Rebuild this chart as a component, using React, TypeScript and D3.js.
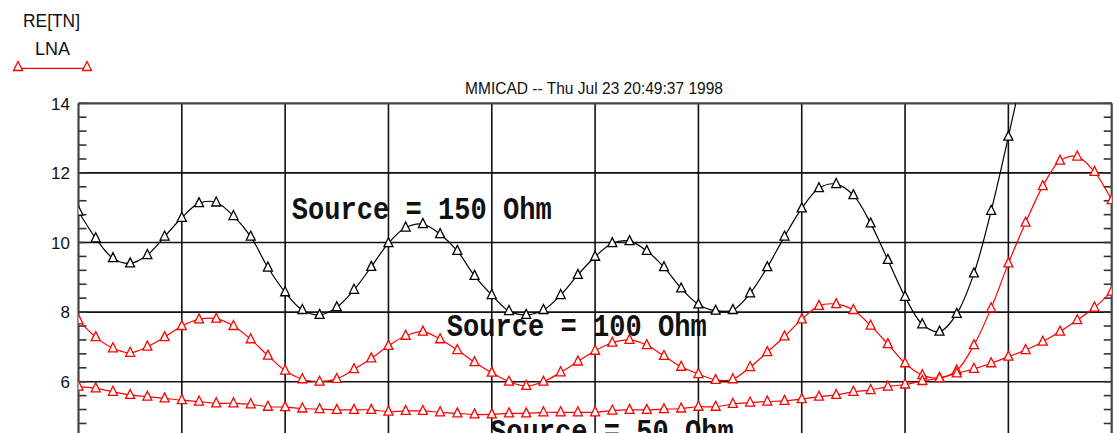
import React from "react";
import * as d3 from "d3";

const W = 1117;
const H = 433;

const yTicks = [14, 12, 10, 8, 6];
const yGrid = [12, 10, 8, 6, 4];
const xGridIdx = [6, 12, 18, 24, 30, 36, 42, 48, 54];

const src150 = [
  10.89, 10.12, 9.55, 9.4, 9.64, 10.17, 10.71, 11.13, 11.15, 10.76, 10.17, 9.28, 8.57, 8.06, 7.92, 8.14,
  8.64, 9.3, 9.98, 10.43, 10.53, 10.24, 9.76, 9.04, 8.49, 8.03, 7.92, 8.06, 8.49, 9.07, 9.59, 9.98, 10.04,
  9.76, 9.29, 8.68, 8.22, 8.04, 8.06, 8.54, 9.29, 10.17, 10.98, 11.56, 11.68, 11.36, 10.55, 9.5, 8.44,
  7.65, 7.44, 7.95, 9.11, 10.91, 13.04, 15.3,
];

const src100 = [
  7.77, 7.28, 6.96, 6.83, 7.01, 7.28, 7.6, 7.79, 7.81, 7.6, 7.22, 6.75, 6.32, 6.07, 6.0, 6.08, 6.36, 6.67,
  7.03, 7.32, 7.44, 7.22, 6.91, 6.56, 6.26, 6.0, 5.88, 6.0, 6.27, 6.58, 6.89, 7.12, 7.2, 7.05, 6.74, 6.43,
  6.22, 6.05, 6.07, 6.42, 6.85, 7.3, 7.79, 8.18, 8.23, 8.06, 7.61, 7.08, 6.53, 6.19, 6.11, 6.32, 7.05, 8.11,
  9.4, 10.57, 11.62, 12.35, 12.47, 12.03, 11.22,
];

const src50 = [
  5.86, 5.81, 5.71, 5.62, 5.57, 5.52, 5.47, 5.43, 5.38, 5.38, 5.35, 5.28, 5.27, 5.23, 5.21, 5.19, 5.19, 5.19,
  5.14, 5.16, 5.16, 5.12, 5.09, 5.06, 5.06, 5.09, 5.09, 5.12, 5.12, 5.12, 5.12, 5.17, 5.19, 5.19, 5.21, 5.23,
  5.28, 5.28, 5.36, 5.4, 5.43, 5.45, 5.5, 5.57, 5.62, 5.71, 5.76, 5.86, 5.92, 6.02, 6.1, 6.24, 6.37, 6.53,
  6.72, 6.91, 7.15, 7.44, 7.77, 8.13, 8.59,
];

const labels = [
  { text: "Source = 150 Ohm", x: 12.38, y: 10.67 },
  { text: "Source = 100 Ohm", x: 21.38, y: 7.31 },
  { text: "Source = 50 Ohm", x: 23.9, y: 4.31 },
];

const tri = "M0,-5.5L4.5,3.5L-4.5,3.5Z";

export default function App() {
  const x = d3.scaleLinear().domain([0, 60]).range([78.5, 1111.7]);
  const y = d3.scaleLinear().domain([6, 14]).range([381.7, 103.3]);
  const left = x(0);
  const right = x(60);
  const top = y(14);
  const bottom = y(2);

  const line = d3
    .line<number>()
    .x((_, i) => x(i))
    .y((d) => y(d))
    .curve(d3.curveCatmullRom.alpha(0.5));

  const minor: number[] = [];
  for (let v = 14; v >= 2.01; v -= 0.4) minor.push(+v.toFixed(2));

  const series = [
    { data: src150, color: "#000000" },
    { data: src100, color: "#ff0000" },
    { data: src50, color: "#ff0000" },
  ];

  return (
    <svg
      width={W}
      height={H}
      style={{ position: "absolute", left: 0, top: 0, background: "#fff" }}
      fontFamily="'Liberation Sans', Arial, sans-serif"
    >
      <defs>
        <clipPath id="plot">
          <rect x={left} y={top} width={right - left} height={bottom - top} />
        </clipPath>
      </defs>
      <rect width={W} height={H} fill="#fff" />

      {/* legend */}
      <text x={51.5} y={26.7} fontSize={18} textAnchor="middle" textLength={57} lengthAdjust="spacingAndGlyphs" fill="#111">
        RE[TN]
      </text>
      <text x={52.5} y={55} fontSize={18} textAnchor="middle" textLength={35} lengthAdjust="spacingAndGlyphs" fill="#111">
        LNA
      </text>
      <line x1={18} x2={87} y1={68.3} y2={68.3} stroke="#ff0000" strokeWidth={1.3} />
      <path d={tri} transform="translate(18,67)" fill="#fff" stroke="#ff0000" strokeWidth={1.3} />
      <path d={tri} transform="translate(87,67)" fill="#fff" stroke="#ff0000" strokeWidth={1.3} />

      {/* title */}
      <text x={594} y={94.3} fontSize={17} textAnchor="middle" textLength={258} lengthAdjust="spacingAndGlyphs" fill="#111">
        MMICAD -- Thu Jul 23 20:49:37 1998
      </text>

      {/* grid */}
      {yGrid.map((t) => (
        <line key={"h" + t} x1={left} x2={right} y1={y(t)} y2={y(t)} stroke="#111" strokeWidth={1.6} />
      ))}
      {xGridIdx.map((i) => (
        <line key={"v" + i} x1={x(i)} x2={x(i)} y1={top} y2={bottom} stroke="#111" strokeWidth={1.6} />
      ))}

      {/* minor ticks */}
      {minor.map((m) => (
        <g key={"m" + m}>
          <line x1={left} x2={left + 8} y1={y(m)} y2={y(m)} stroke="#333" strokeWidth={1.6} />
          <line x1={right - 8} x2={right} y1={y(m)} y2={y(m)} stroke="#333" strokeWidth={1.6} />
        </g>
      ))}

      {/* frame */}
      <line x1={left} x2={right} y1={top} y2={top} stroke="#444" strokeWidth={2.2} />
      <line x1={left} x2={left} y1={top} y2={bottom} stroke="#444" strokeWidth={2.2} />
      <line x1={right} x2={right} y1={top} y2={bottom} stroke="#444" strokeWidth={2.2} />

      {/* y tick labels */}
      {yTicks.map((t) => (
        <text key={"t" + t} x={70} y={y(t) + 6.3} fontSize={17} textAnchor="end" fill="#111">
          {t}
        </text>
      ))}

      {/* series */}
      <g clipPath="url(#plot)">
        {series.map((s, k) => (
          <g key={"s" + k}>
            <path d={line(s.data) || ""} fill="none" stroke={s.color} strokeWidth={1.2} />
            {s.data.map((d, i) => (
              <path
                key={i}
                d={tri}
                transform={`translate(${x(i)},${y(d)})`}
                fill="#fff"
                stroke={s.color}
                strokeWidth={1.3}
              />
            ))}
          </g>
        ))}
      </g>

      {/* annotations */}
      {labels.map((l) => (
        <text
          key={l.text}
          x={x(l.x)}
          y={y(l.y)}
          fontSize={31}
          fontWeight="bold"
          fontFamily="'Courier New', 'Liberation Mono', monospace"
          textLength={l.text.length * 16.25}
          lengthAdjust="spacingAndGlyphs"
          fill="#111"
        >
          {l.text}
        </text>
      ))}
    </svg>
  );
}
